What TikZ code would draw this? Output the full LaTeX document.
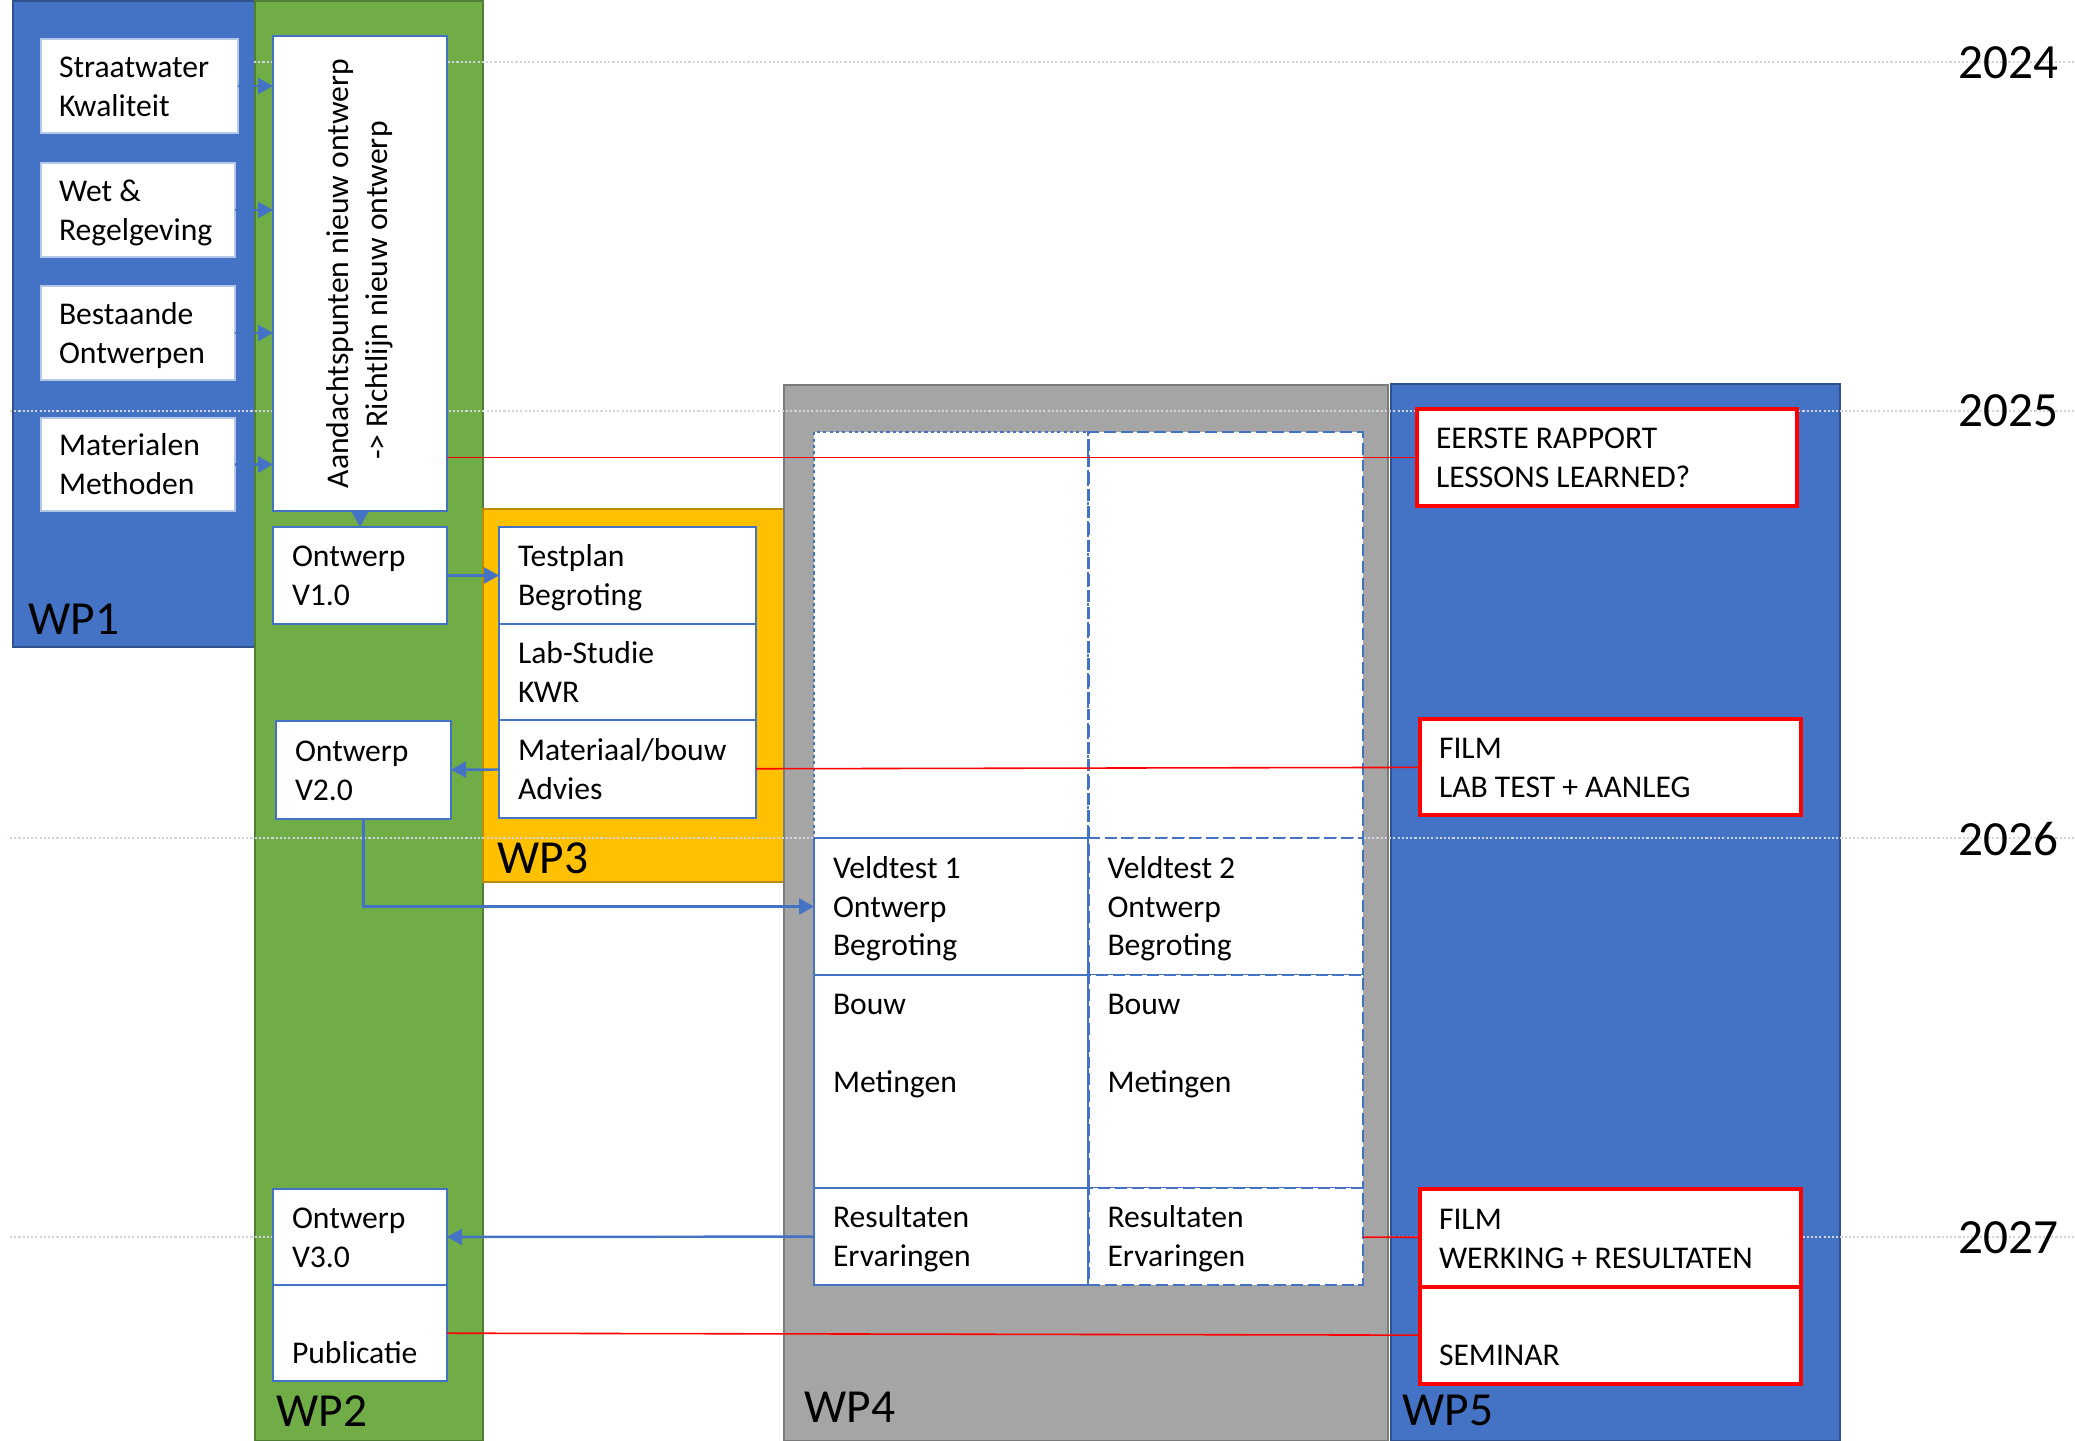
\documentclass[tikz,border=0pt]{standalone}
\usepackage{fontspec}
\setmainfont{Carlito}
\usepackage{tikz}
\usetikzlibrary{positioning, arrows.meta}

\definecolor{boxblue}{HTML}{4472C4}
\definecolor{wpblue}{HTML}{4472C4}
\definecolor{wpblueline}{HTML}{2F528F}
\definecolor{wpgreen}{HTML}{70AD47}
\definecolor{wpgreenline}{HTML}{507E32}
\definecolor{wporange}{HTML}{FFC000}
\definecolor{wporangeline}{HTML}{BC8C00}
\definecolor{wpgray}{HTML}{A5A5A5}
\definecolor{wpgrayline}{HTML}{7B7B7B}
\definecolor{lightline}{HTML}{B4C7E7}
\definecolor{yeargray}{HTML}{D0D6E0}

\newcommand{\bodyfont}{\fontsize{9}{11}\selectfont\hyphenpenalty=10000\exhyphenpenalty=10000}
\newcommand{\wpfont}{\fontsize{13.5}{16}\selectfont}
\newcommand{\yearfont}{\fontsize{14}{17}\selectfont}
\newcommand{\firststrut}{\rule{0pt}{9.4pt}}

\begin{document}
\begin{tikzpicture}[x=1mm,y=-1mm,
                    wp/.style={anchor=north west,inner sep=0pt,line width=0.6pt},
                    pbox/.style={anchor=north west,draw=boxblue,line width=0.8pt,fill=white,
                                 inner sep=0pt,outer sep=0pt},
                    tbox/.style={pbox,inner xsep=1.9mm,align=flush left,font=\bodyfont,
                                 execute at begin node=\firststrut,execute at end node=\strut},
                    lbox/.style={tbox,draw=lightline,line width=0.5pt,inner xsep=1.8mm},
                    rbox/.style={tbox,draw=red,line width=1pt},
                    dotcell/.style={tbox,dash pattern=on 0.9pt off 0.9pt},
                    dashcell/.style={tbox,dash pattern=on 3.4pt off 1.4pt},
                    wplabel/.style={anchor=base west,inner sep=0pt,font=\wpfont},
                    year/.style={anchor=east,inner sep=0pt,font=\yearfont},
                    yearline/.style={draw=yeargray,line width=0.5pt,dash pattern=on 0.6pt off 0.6pt},
                    arr/.style={draw=boxblue,line width=0.7pt,-{Triangle[length=1.5mm,width=1.6mm]}},
                    link/.style={draw=red,line width=0.45pt}]

 \useasboundingbox (0,0) rectangle (207.5,144);

 % work packages
 \node[wp,draw=wpblueline,fill=wpblue,minimum width=24.2mm,minimum height=64.6mm] (wp1) at (1.2,0) {};
 \node[wp,draw=wpgreenline,fill=wpgreen,minimum width=22.8mm,minimum height=144mm] (wp2) at (25.4,0) {};
 \node[wp,draw=wporangeline,fill=wporange,minimum width=30.1mm,minimum height=37.3mm] (wp3) at (48.2,50.8) {};
 \node[wp,draw=wpgrayline,fill=wpgray,minimum width=60.4mm,minimum height=105.6mm] (wp4) at (78.3,38.4) {};
 \node[wp,draw=wpblueline,fill=wpblue,minimum width=44.9mm,minimum height=105.7mm] (wp5) at (139.0,38.3) {};

 % years
 \draw[yearline] (25.4,6.2) -- (207.5,6.2);
 \draw[yearline] (1.0,41.1) -- (207.5,41.1);
 \draw[yearline] (1.0,83.8) -- (207.5,83.8);
 \draw[yearline] (1.0,123.7) -- (207.5,123.7);

 \node[year] (y24) at (205.9,6.3) {2024};
 \node[year] (y25) at (205.9,41.05) {2025};
 \node[year] (y26) at (205.9,83.9) {2026};
 \node[year] (y27) at (205.9,123.75) {2027};

 % WP1
 \node[lbox,text width=16.1mm,minimum height=9.4mm] (sw) at (4.1,3.9) {Straatwater\\Kwaliteit};
 \node[lbox,text width=15.8mm,minimum height=9.4mm] (wr) at (4.1,16.3) {Wet \&\\Regelgeving};
 \node[lbox,text width=15.8mm,minimum height=9.4mm] (bo) at (4.1,28.6) {Bestaande\\Ontwerpen};
 \node[lbox,text width=15.8mm,minimum height=9.3mm] (mm) at (4.1,41.8) {Materialen\\Methoden};

 % WP2
 \node[pbox,font=\bodyfont,minimum width=17.4mm,minimum height=47.5mm] (aand) at (27.3,3.6)
   {\rotatebox{90}{\begin{tabular}{@{}c@{}}Aandachtspunten nieuw ontwerp\\-> Richtlijn nieuw ontwerp\kern3.4mm\end{tabular}}};
 \node[tbox,text width=13.6mm,minimum height=9.7mm] (v1) at (27.3,52.7) {Ontwerp\\V1.0};
 \node[tbox,text width=13.7mm,minimum height=9.8mm] (v2) at (27.6,72.1) {Ontwerp\\V2.0};
 \node[tbox,text width=13.6mm,minimum height=9.6mm] (v3) at (27.3,118.9) {Ontwerp\\V3.0};
 \node[tbox,text width=13.6mm,minimum height=9.6mm,below=0pt of v3] (pub) {~\\Publicatie};

 % WP3
 \node[tbox,text width=21.9mm,minimum height=9.7mm] (tp) at (49.9,52.7) {Testplan\\Begroting};
 \node[tbox,text width=21.9mm,minimum height=9.6mm,below=0pt of tp] (lab) {Lab-Studie\\KWR};
 \node[tbox,text width=21.9mm,minimum height=9.8mm,below=0pt of lab] (mat) {Materiaal/bouw\\Advies};

 % WP4
 \node[dotcell,text width=23.65mm,minimum height=40.6mm] (e1) at (81.4,43.2) {};
 \node[dashcell,text width=23.65mm,minimum height=40.6mm,right=0pt of e1] (e2) {};
 \node[tbox,text width=23.65mm,minimum height=13.7mm,below=0pt of e1] (vt1) {Veldtest 1\\Ontwerp\\Begroting};
 \node[dashcell,text width=23.65mm,minimum height=13.7mm,right=0pt of vt1] (vt2) {Veldtest 2\\Ontwerp\\Begroting};
 \node[tbox,text width=23.65mm,minimum height=21.3mm,below=0pt of vt1] (bw1) {Bouw\\~\\Metingen\\~\\~};
 \node[dashcell,text width=23.65mm,minimum height=21.3mm,right=0pt of bw1] (bw2) {Bouw\\~\\Metingen\\~\\~};
 \node[tbox,text width=23.65mm,minimum height=9.7mm,below=0pt of bw1] (rs1) {Resultaten\\Ervaringen};
 \node[dashcell,text width=23.65mm,minimum height=9.7mm,right=0pt of rs1] (rs2) {Resultaten\\Ervaringen};

 % WP5
 \node[rbox,text width=34.2mm,minimum height=9.7mm] (er) at (141.7,40.9) {EERSTE RAPPORT\\LESSONS LEARNED?};
 \node[rbox,text width=34.3mm,minimum height=9.6mm] (fl) at (142.0,71.9) {FILM\\LAB TEST + AANLEG};
 \node[rbox,text width=34.3mm,minimum height=9.8mm] (fw) at (142.0,118.9) {FILM\\WERKING + RESULTATEN};
 \node[rbox,text width=34.3mm,minimum height=9.7mm,below=0pt of fw] (sem) {~\\SEMINAR};

 \node[wplabel] (l1) at (2.8,63.4) {WP1};
 \node[wplabel] (l2) at (27.6,142.6) {WP2};
 \node[wplabel] (l3) at (49.7,87.3) {WP3};
 \node[wplabel] (l4) at (80.4,142.2) {WP4};
 \node[wplabel] (l5) at (140.2,142.5) {WP5};

 % connections
 \draw[arr] (sw) -- (sw -| aand.west);
 \draw[arr] (wr) -- (wr -| aand.west);
 \draw[arr] (bo) -- (bo -| aand.west);
 \draw[arr] (mm) -- (mm -| aand.west);
 \path
 (aand) edge[arr] (v1)
 (v1) edge[arr] (tp)
 (mat) edge[arr] (v2)
 (rs1) edge[arr] (v3);
 \draw[arr] (v2) |- (vt1);

 \draw[link] (er.west -| aand.east) -- (er);
 \path
 (mat) edge[link] (fl)
 (rs2) edge[link] (fw)
 (pub) edge[link] (sem);

\end{tikzpicture}
\end{document}
